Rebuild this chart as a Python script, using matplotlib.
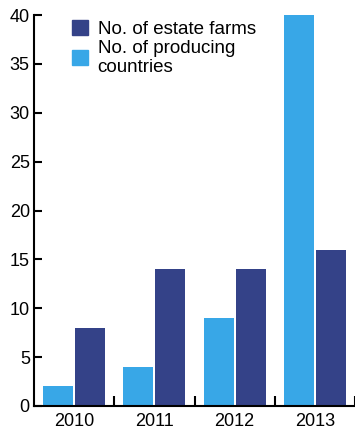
import numpy as np
import matplotlib as mpl
from matplotlib import pyplot as plt
from matplotlib.patches import Patch

years = ["2010", "2011", "2012", "2013"]
producing_countries = [2, 4, 9, 40]
estate_farms = [8, 14, 14, 16]

LIGHT = "#38a7e7"
DARK = "#344288"

mpl.rc("font", family=["Liberation Sans", "DejaVu Sans"], size=13)

fig = plt.figure(figsize=(3.55, 4.3), dpi=100)
ax = fig.add_axes([34 / 355, 24 / 430, 321 / 355, 391 / 430])

x = np.arange(len(years))
width = 0.375
ax.bar(x - 0.2, producing_countries, width, color=LIGHT)
ax.bar(x + 0.2, estate_farms, width, color=DARK)

ax.set_xlim(-0.5, 3.5)
ax.set_ylim(0, 40)
ax.set_yticks(range(0, 41, 5))
ax.set_xticks(x, years)
ax.set_xticks(x + 0.5, minor=True)

for side in ("top", "right"):
    ax.spines[side].set_visible(False)
for side in ("left", "bottom"):
    ax.spines[side].set_linewidth(1.5)

ax.tick_params(axis="x", which="major", length=0, pad=5)
ax.tick_params(axis="x", which="minor", direction="in", length=7, width=1.5)
ax.tick_params(axis="y", direction="in", length=6, width=1.5, pad=3)

# legend sits inside the plot, top left, no frame
handles = [Patch(color=DARK), Patch(color=LIGHT)]
labels = ["No. of estate farms", "No. of producing\ncountries"]
ax.legend(handles, labels, loc="upper left", bbox_to_anchor=(0.09, 1.012),
          frameon=False, handlelength=0.85, handleheight=0.85, handletextpad=0.5,
          labelspacing=0.1, borderpad=0, fontsize=13.5)

fig.savefig("out.png", dpi=100)
